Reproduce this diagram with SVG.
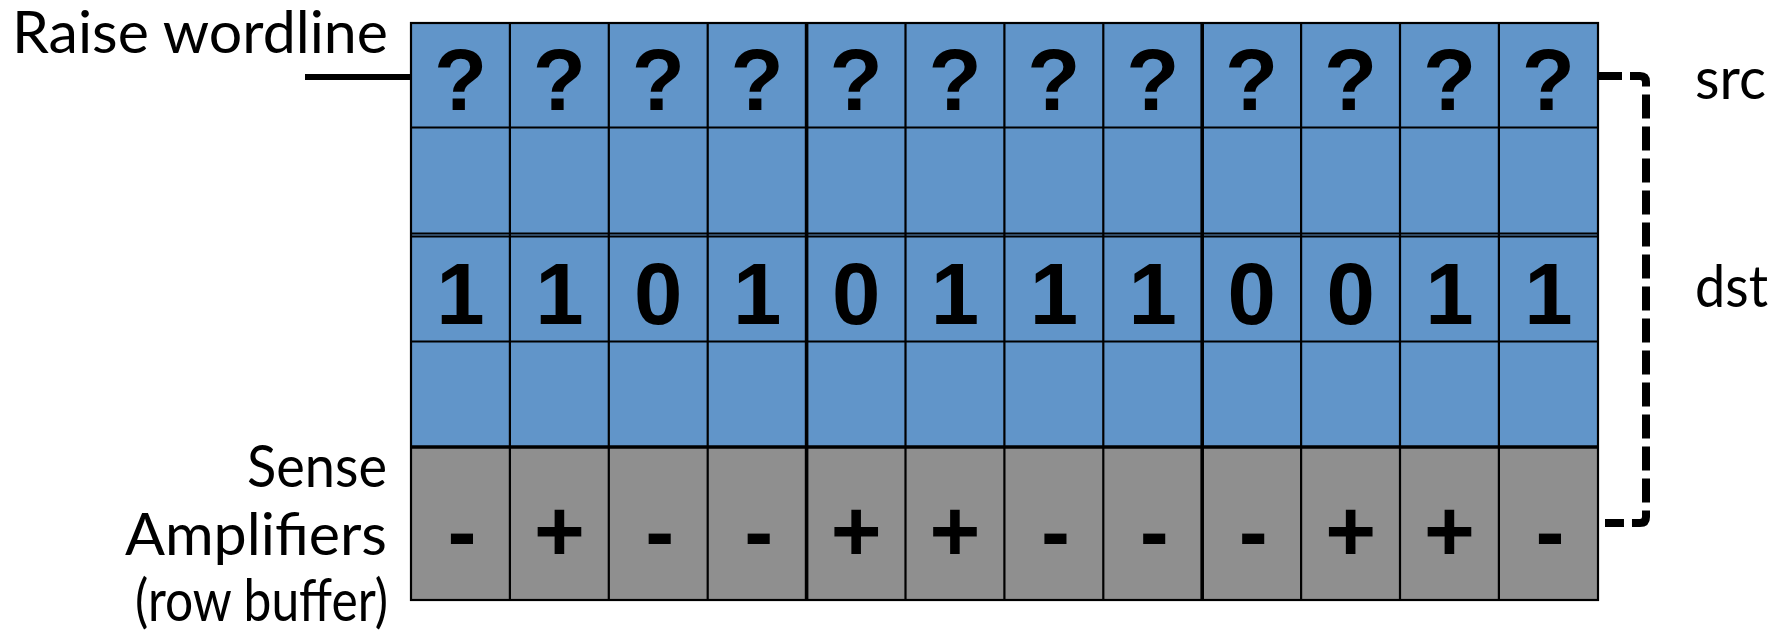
<svg xmlns="http://www.w3.org/2000/svg" width="1791" height="637" viewBox="0 0 1791 637">
<style>
.lbl{font-family:Lato,"Open Sans","Liberation Sans",sans-serif;font-size:59px;fill:#000}
.sym{font-family:"Liberation Sans",Arial,sans-serif;font-weight:bold;font-size:87px;fill:#000;text-anchor:middle}
.blue{fill:#6195C9}
.gray{fill:#8F8F8F}
.grid{stroke:#000;stroke-width:2.2;fill:none}
.thick{stroke:#000;stroke-width:3.6;fill:none}
</style>
<rect width="1791" height="637" fill="#fff"/>

<g id="row-src">
<rect class="blue" x="411" y="23" width="1187" height="104.5"/>
<text class="sym" y="109.5"><tspan x="460.5">?</tspan><tspan x="559.4">?</tspan><tspan x="658.3">?</tspan><tspan x="757.2">?</tspan><tspan x="856.1">?</tspan><tspan x="955">?</tspan><tspan x="1053.9">?</tspan><tspan x="1152.8">?</tspan><tspan x="1251.7">?</tspan><tspan x="1350.6">?</tspan><tspan x="1449.5">?</tspan><tspan x="1548.4">?</tspan></text>
</g>
<g id="row-2">
<rect class="blue" x="411" y="127.5" width="1187" height="107.5"/>
</g>
<g id="row-dst">
<rect class="blue" x="411" y="235" width="1187" height="106.5"/>
<text class="sym" y="324"><tspan x="460.5">1</tspan><tspan x="559.4">1</tspan><tspan x="658.3">0</tspan><tspan x="757.2">1</tspan><tspan x="856.1">0</tspan><tspan x="955">1</tspan><tspan x="1053.9">1</tspan><tspan x="1152.8">1</tspan><tspan x="1251.7">0</tspan><tspan x="1350.6">0</tspan><tspan x="1449.5">1</tspan><tspan x="1548.4">1</tspan></text>
</g>
<g id="row-4">
<rect class="blue" x="411" y="341.5" width="1187" height="105.5"/>
</g>
<g id="sense-amplifiers">
<rect class="gray" x="411" y="447" width="1187" height="153"/>
<text class="sym" y="561"><tspan x="462">-</tspan><tspan x="559.4">+</tspan><tspan x="659.8">-</tspan><tspan x="758.7">-</tspan><tspan x="856.1">+</tspan><tspan x="955">+</tspan><tspan x="1055.4">-</tspan><tspan x="1154.3">-</tspan><tspan x="1253.2">-</tspan><tspan x="1350.6">+</tspan><tspan x="1449.5">+</tspan><tspan x="1550">-</tspan></text>
</g>

<g id="grid-lines">
<rect class="grid" x="411" y="23" width="1187" height="577"/>
<path class="grid" d="M411,127.5H1598M411,233.5H1598M411,236.5H1598M411,341.5H1598"/>
<path class="thick" d="M411,447H1598"/>
<path class="grid" d="M509.9,23V600M608.8,23V600M707.7,23V600M905.5,23V600M1004.4,23V600M1103.3,23V600M1301.1,23V600M1400,23V600M1498.9,23V600"/>
<path class="thick" d="M806.6,23V600M1202.2,23V600"/>
</g>

<g id="labels">
<text class="lbl" x="12" y="53" textLength="376" lengthAdjust="spacingAndGlyphs">Raise wordline</text>
<text class="lbl" x="1695" y="98.5" textLength="71" lengthAdjust="spacingAndGlyphs">src</text>
<text class="lbl" x="1695" y="307" textLength="73" lengthAdjust="spacingAndGlyphs">dst</text>
<text class="lbl" x="247" y="487" textLength="140" lengthAdjust="spacingAndGlyphs">Sense</text>
<text class="lbl" x="125" y="555" textLength="262" lengthAdjust="spacingAndGlyphs">Amplifiers</text>
<text class="lbl" x="135" y="621" textLength="253" lengthAdjust="spacingAndGlyphs">(row buffer)</text>
</g>

<g id="connectors">
<path d="M305,77H411" stroke="#000" stroke-width="6" fill="none"/>
<path d="M1598,76H1640Q1646,76 1646,82V517Q1646,523 1640,523H1605" stroke="#000" stroke-width="8" fill="none" stroke-dasharray="24 8" stroke-linejoin="round"/>
</g>
</svg>
